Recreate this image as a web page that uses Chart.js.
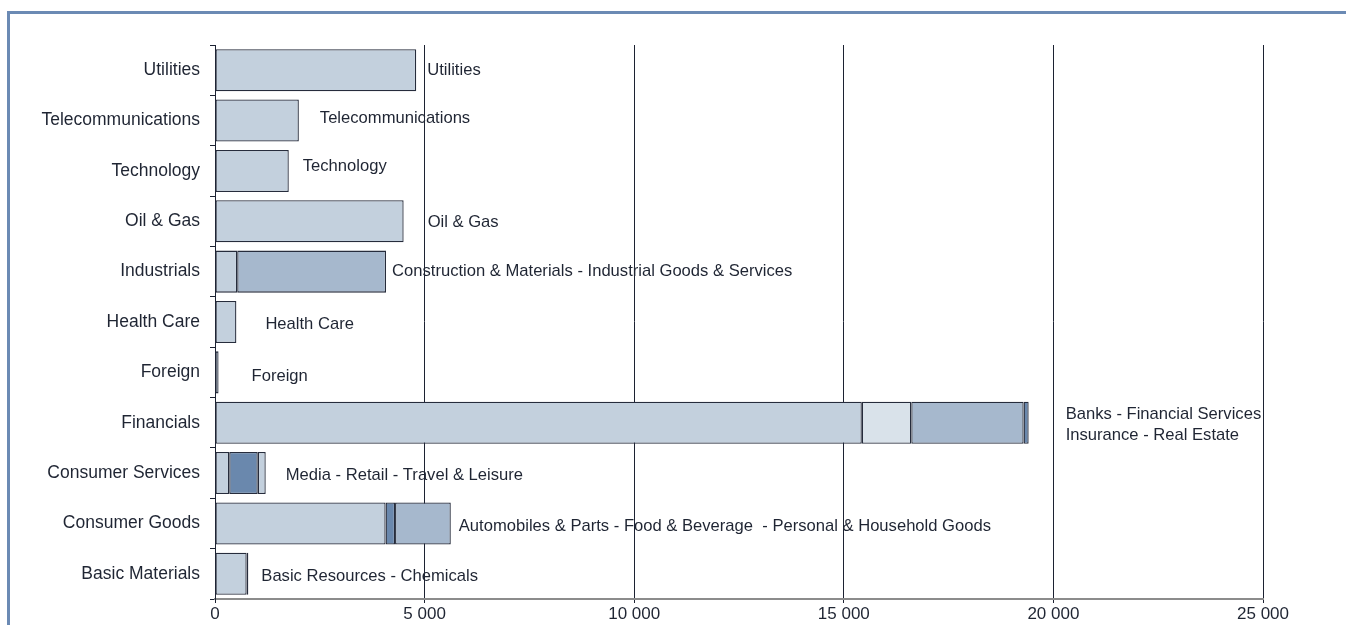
<!DOCTYPE html>
<html><head><meta charset="utf-8">
<script src="https://cdn.jsdelivr.net/npm/chart.js@4"></script>
<style>
html,body{margin:0;padding:0;background:#fff;overflow:hidden;}
#frame{position:absolute;left:7px;top:11px;width:2000px;height:2000px;border-left:3px solid #6b8ab4;border-top:3px solid #6b8ab4;box-sizing:border-box;}
#wrap{position:absolute;left:0;top:0;width:1346px;height:625px;}
</style></head><body>
<div id="frame"></div>
<div id="wrap"><canvas id="c"></canvas></div>
<script>
const categories = ["Utilities","Telecommunications","Technology","Oil & Gas","Industrials","Health Care","Foreign","Financials","Consumer Services","Consumer Goods","Basic Materials"];
const segment1 = [4800, 2000, 1760, 4500, 530, 510, 85, 15430, 340, 4070, 755];
const segment2 = [null, null, null, null, 3550, null, null, 1180, 680, 225, 40];
const segment3 = [null, null, null, null, null, null, null, 2680, 190, 1330, null];
const segment4 = [null, null, null, null, null, null, null, 120, null, null, null];
const segmentLabels = [
  ["Utilities"],
  ["Telecommunications"],
  ["Technology"],
  ["Oil & Gas"],
  ["Construction & Materials - Industrial Goods & Services"],
  ["Health Care"],
  ["Foreign"],
  ["Banks - Financial Services","Insurance - Real Estate"],
  ["Media - Retail - Travel & Leisure"],
  ["Automobiles & Parts - Food & Beverage  - Personal & Household Goods"],
  ["Basic Resources - Chemicals"]
];
const xTicks = [0, 5000, 10000, 15000, 20000, 25000];

const LIGHT = '#c3d0dd', LIGHTER = '#d9e2ea', MED = '#a6b8cd', DARK = '#6a88ad';
const c2 = [null,null,null,null,MED,null,null,LIGHTER,DARK,DARK,DARK];
const c3 = [null,null,null,null,null,null,null,MED,LIGHT,MED,null];
const c4 = [null,null,null,null,null,null,null,DARK,null,null,null];

// label placement (pixel offsets from bar end / category center)
const labelDx = [11, 21, 14, 24, 6, 29, 33, 37, 20, 8, 13];
const labelDy = [0, -2, -4, 1, 0, 2, 4, 2, 2, 2.5, 3];

const INK = '#1f2533';
const GRID = '#1c2232';

const labelPlugin = {
  id: 'segLabels',
  afterDatasetsDraw(chart) {
    const ctx = chart.ctx;
    const xs = chart.scales.x, ys = chart.scales.y;
    ctx.save();
    ctx.font = '16.6px "Liberation Sans", Arial, sans-serif';
    ctx.fillStyle = INK;
    ctx.textAlign = 'left';
    ctx.textBaseline = 'middle';
    categories.forEach((c, i) => {
      const total = [segment1, segment2, segment3, segment4].reduce((s, a) => s + (a[i] || 0), 0);
      const x = xs.getPixelForValue(total) + labelDx[i];
      const yc = ys.getPixelForValue(i) + labelDy[i];
      const lines = segmentLabels[i];
      const lh = 20.5;
      lines.forEach((t, k) => {
        ctx.fillText(t, x, yc + (k - (lines.length - 1) / 2) * lh);
      });
    });
    ctx.restore();
  }
};

const common = { borderColor: '#262c3c', borderWidth: 1.3, borderSkipped: false, barPercentage: 0.835, categoryPercentage: 1.0 };

new Chart(document.getElementById('c'), {
  type: 'bar',
  data: {
    labels: categories,
    datasets: [
      Object.assign({ data: segment1, backgroundColor: LIGHT }, common),
      Object.assign({ data: segment2, backgroundColor: c2 }, common),
      Object.assign({ data: segment3, backgroundColor: c3 }, common),
      Object.assign({ data: segment4, backgroundColor: c4 }, common)
    ]
  },
  options: {
    indexAxis: 'y',
    responsive: true,
    maintainAspectRatio: false,
    animation: false,
    devicePixelRatio: 1,
    layout: { padding: { left: 0, top: 45, right: 83, bottom: 0 } },
    plugins: { legend: { display: false }, tooltip: { enabled: false } },
    scales: {
      x: {
        stacked: true,
        min: 0, max: 25000,
        afterBuildTicks(scale) { scale.ticks = xTicks.map(v => ({ value: v })); },
        afterFit(scale) { scale.height = 26; },
        grid: { color: GRID, lineWidth: 1, tickLength: 4, drawTicks: true },
        border: { display: true, color: '#8c8c8c', width: 2 },
        ticks: {
          color: INK, padding: 1,
          font: { family: '"Liberation Sans", Arial, sans-serif', size: 17 },
          callback: v => String(v).replace(/\B(?=(\d{3})+(?!\d))/g, ' '),
          maxRotation: 0, autoSkip: false
        }
      },
      y: {
        stacked: true,
        afterFit(scale) { scale.width = 215; },
        grid: { drawOnChartArea: false, color: GRID, tickLength: 5, offset: true },
        border: { display: true, color: GRID, width: 1 },
        ticks: {
          color: INK, padding: 10,
          font: { family: '"Liberation Sans", Arial, sans-serif', size: 17.5 }
        }
      }
    }
  },
  plugins: [labelPlugin]
});
</script>
</body></html>
